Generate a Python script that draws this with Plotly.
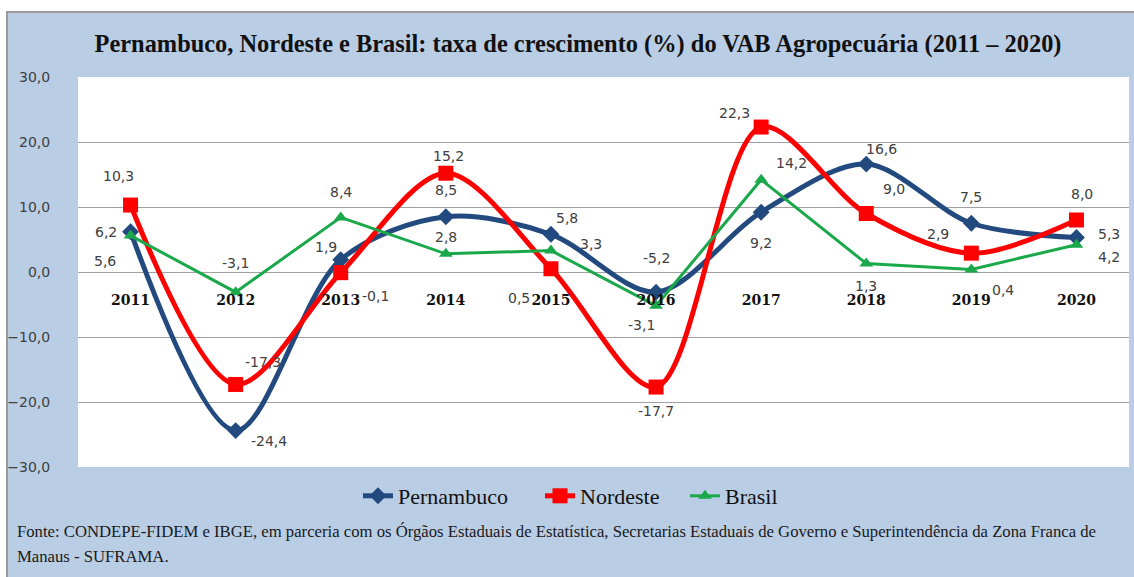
import plotly.graph_objects as go

years = ["2011", "2012", "2013", "2014", "2015", "2016", "2017", "2018", "2019", "2020"]
pernambuco = [6.2, -24.4, 1.9, 8.5, 5.8, -3.1, 9.2, 16.6, 7.5, 5.3]
nordeste = [10.3, -17.3, -0.1, 15.2, 0.5, -17.7, 22.3, 9.0, 2.9, 8.0]
brasil = [5.6, -3.1, 8.4, 2.8, 3.3, -5.2, 14.2, 1.3, 0.4, 4.2]
y_ticks = [-30, -20, -10, 0, 10, 20, 30]

title_text = "Pernambuco, Nordeste e Brasil: taxa de crescimento (%) do VAB Agropecuária (2011 – 2020)"
source_line1 = ("Fonte: CONDEPE-FIDEM e IBGE, em parceria com os Órgãos Estaduais de Estatística, "
                "Secretarias Estaduais de Governo e Superintendência da Zona Franca de")
source_line2 = "Manaus - SUFRAMA."

# label offsets in pixels (dx right, dy down) -- styling only
off_pe = [(-25, 0), (33, 10), (-15, -13), (0, -27), (16, -16), (-15, 33), (0, 31), (15, -15), (0, -26), (33, -4)]
off_ne = [(-12, -29), (27, -22), (35, 23), (3, -17), (-32, 29), (0, 24), (-27, -14), (28, -25), (-33, -19), (6, -26)]
off_br = [(-26, 25), (0, -29), (0, -25), (0, -17), (40, -7), (0, -48), (30, -17), (0, 22), (32, 21), (33, 12)]

BLUE = "#234a7e"
RED = "#ff0000"
GREEN = "#1aa84b"
BG = "#b9cde5"

# plot area in pixels
L, T, R, B = 78, 77, 1129, 467
W, H = R - L, B - T


def px(x):
    return (x - L) / W


def py(y):
    return (B - y) / H


xi = list(range(len(years)))

fig = go.Figure()
fig.add_trace(go.Scatter(x=xi, y=pernambuco, name="Pernambuco", mode="lines+markers", legend="legend",
                         line=dict(color=BLUE, width=5, shape="spline", smoothing=0.9),
                         marker=dict(symbol="diamond", size=13, color=BLUE)))
fig.add_trace(go.Scatter(x=xi, y=nordeste, name="Nordeste", mode="lines+markers", legend="legend2",
                         line=dict(color=RED, width=5, shape="spline", smoothing=0.9),
                         marker=dict(symbol="square", size=15, color=RED)))
fig.add_trace(go.Scatter(x=xi, y=brasil, name="Brasil", mode="lines+markers", legend="legend3",
                         line=dict(color=GREEN, width=3),
                         marker=dict(symbol="triangle-up", size=12, color=GREEN)))


def fmt(v):
    return f"{v:.1f}".replace(".", ",")


annotations = []
for vals, offs in ((pernambuco, off_pe), (nordeste, off_ne), (brasil, off_br)):
    for i, v, (dx, dy) in zip(xi, vals, offs):
        annotations.append(dict(x=i, y=v, xref="x", yref="y", text=fmt(v), showarrow=False,
                                xshift=dx, yshift=-dy,
                                font=dict(family="DejaVu Sans", size=14, color="#404040")))

annotations.append(dict(x=px(15), y=py(531), xref="paper", yref="paper", text=source_line1,
                        showarrow=False, xanchor="left", yanchor="middle",
                        font=dict(family="Liberation Serif", size=16.7, color="#1a1a1a")))
annotations.append(dict(x=px(15), y=py(556), xref="paper", yref="paper", text=source_line2,
                        showarrow=False, xanchor="left", yanchor="middle",
                        font=dict(family="Liberation Serif", size=16.7, color="#1a1a1a")))

shapes = [
    dict(type="rect", xref="paper", yref="paper", x0=px(7), y0=py(600), x1=px(1160), y1=py(12),
         fillcolor=BG, line=dict(color="#9a9a9a", width=2), layer="below"),
    dict(type="rect", xref="paper", yref="paper", x0=0, y0=0, x1=1, y1=1,
         fillcolor="white", line=dict(width=0), layer="below"),
]

legend_font = dict(family="Liberation Serif", size=22, color="#111111")


def leg(xpix):
    return dict(orientation="h", x=px(xpix), xanchor="left", y=py(496), yanchor="middle",
                bgcolor="rgba(0,0,0,0)", font=legend_font)


fig.update_layout(
    width=1134, height=577,
    margin=dict(l=L, r=1134 - R, t=T, b=577 - B, autoexpand=False),
    paper_bgcolor="white",
    plot_bgcolor="white",
    separators=",.",
    font=dict(family="Liberation Serif"),
    title=dict(text=f"<b>{title_text}</b>", x=px(578), xref="paper", xanchor="center",
               y=1 - 43 / 577, yref="container", yanchor="middle",
               font=dict(family="Liberation Serif", size=24.4, color="#111111")),
    showlegend=True,
    legend=leg(358),
    legend2=leg(540),
    legend3=leg(685),
    shapes=shapes,
    annotations=annotations,
    xaxis=dict(range=[-0.5, 9.5], tickvals=xi, ticktext=[f"<b>{y}</b>" for y in years],
               showgrid=False, zeroline=False, showline=False, automargin=False,
               anchor="free", position=0.5, ticks="outside", ticklen=0, ticklabelstandoff=15,
               tickfont=dict(family="DejaVu Serif", size=14, color="#111111")),
    yaxis=dict(range=[-30, 30], tickvals=y_ticks, tickformat=".1f", showgrid=True, automargin=False,
               gridcolor="#a0a0a0", gridwidth=1, zeroline=True, zerolinecolor="#a0a0a0",
               zerolinewidth=1, showline=False, ticks="outside", ticklen=0, ticklabelstandoff=24,
               tickfont=dict(family="DejaVu Sans", size=14, color="#404040")),
)

fig.write_html("out.html", config={"displayModeBar": False},
               post_script="document.body.style.margin='0';")
